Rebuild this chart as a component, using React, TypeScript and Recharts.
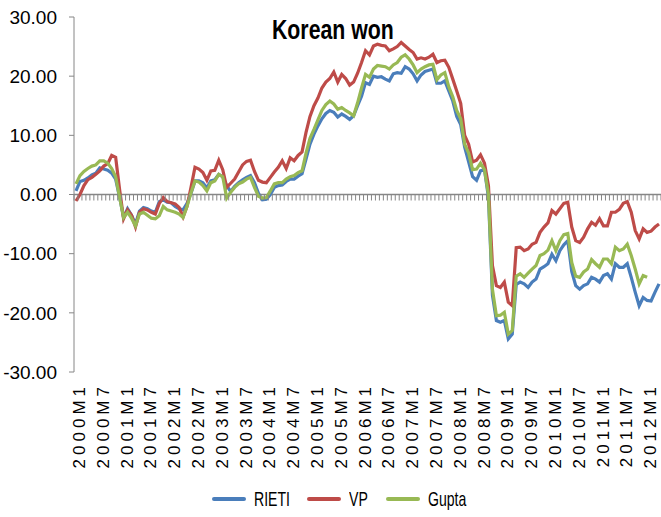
import { LineChart, Line, XAxis, YAxis, ReferenceLine, Legend } from 'recharts';

// monthly categories 2000M1 .. 2012M4
const YEARS = [2000, 2001, 2002, 2003, 2004, 2005, 2006, 2007, 2008, 2009, 2010, 2011, 2012];
const MONTHS = [1, 2, 3, 4, 5, 6, 7, 8, 9, 10, 11, 12];
const LAST_YEAR_MONTHS = 4;

const TICK_LABELS = [
  '2000M1', '2000M7', '2001M1', '2001M7', '2002M1', '2002M7', '2003M1', '2003M7',
  '2004M1', '2004M7', '2005M1', '2005M7', '2006M1', '2006M7', '2007M1', '2007M7',
  '2008M1', '2008M7', '2009M1', '2009M7', '2010M1', '2010M7', '2011M1', '2011M7', '2012M1',
];

const Y_TICKS = [-30, -20, -10, 0, 10, 20, 30];

const RIETI = [
  0.6, 2.2, 2.4, 2.8, 3.3, 3.6, 4.5, 4.3, 4.1, 3.6, 2.6, -0.5,
  -3.9, -2.4, -3.5, -5.0, -2.8, -2.2, -2.4, -2.8, -3.0, -1.2, -0.9, -1.3,
  -1.4, -2.0, -2.4, -2.6, -1.5, 0.2, 2.3, 2.3, 2.0, 1.1, 2.3, 2.5,
  3.4, 3.0, 1.5, 0.5, 1.4, 2.0, 2.5, 2.9, 3.2, 2.0, 0.2, -0.9,
  -0.8, 0.0, 1.2, 1.5, 1.6, 2.2, 2.6, 2.6, 3.1, 3.5, 6.0, 8.5,
  10.2, 11.6, 12.8, 13.7, 14.2, 13.9, 13.1, 13.6, 13.2, 12.7, 13.3, 15.0,
  16.6, 18.9, 18.6, 20.0, 19.8, 19.9, 19.5, 19.2, 20.4, 20.6, 20.5, 21.6,
  21.2, 20.4, 19.2, 20.2, 20.8, 21.0, 21.2, 18.8, 18.8, 19.2, 17.5, 15.8,
  13.2, 11.8, 8.0, 5.5, 3.0, 2.4, 4.0, 4.2, -0.5, -17.0, -21.3, -21.6,
  -21.3, -24.4, -23.6, -15.2, -14.8, -15.1, -15.7, -14.8, -14.3, -12.6, -12.2, -11.7,
  -10.1, -11.2, -9.5, -8.5, -7.8, -13.0, -15.4, -16.0, -15.4, -15.1, -14.0, -14.3,
  -14.8, -13.7, -13.4, -14.3, -11.7, -12.3, -12.3, -11.7, -14.0, -16.5, -18.8, -17.4,
  -17.9, -18.0, -16.5, -15.1,
];

const VP = [
  -1.1, 0.0, 1.5, 2.5, 2.9, 3.4, 4.0, 4.8, 5.2, 6.6, 6.3, 0.8,
  -4.1, -2.6, -3.5, -5.5, -3.0, -2.4, -2.6, -3.0, -3.3, -1.5, -0.5, -1.2,
  -1.4, -1.6, -2.2, -3.8, -2.0, 1.2, 4.6, 4.3, 3.7, 2.4, 4.0, 4.1,
  5.8, 4.2, 1.2, 1.9, 2.6, 3.8, 5.0, 5.6, 5.8, 3.9, 2.4, 2.1,
  2.0, 2.9, 3.8, 4.6, 5.7, 4.4, 6.2, 5.7, 6.6, 7.2, 10.5, 13.2,
  15.0, 16.3, 18.0, 19.0, 19.6, 20.7, 19.0, 20.3, 19.6, 18.5, 19.0, 20.5,
  22.3, 24.3, 23.6, 25.1, 25.4, 25.2, 25.1, 24.3, 24.6, 25.0, 25.7, 25.1,
  24.5, 24.0, 22.9, 23.1, 22.9, 23.2, 23.7, 22.3, 22.6, 22.7, 21.5, 19.5,
  17.5, 15.4, 10.0, 8.5, 5.5, 5.8, 6.7, 5.3, 1.5, -12.0, -15.4, -15.7,
  -14.8, -18.2, -18.8, -9.0, -8.9, -9.5, -9.2, -8.4, -8.1, -6.4, -5.5, -4.8,
  -2.7, -3.3, -2.4, -1.5, -1.3, -5.5, -7.8, -8.1, -7.2, -5.8, -4.7, -5.2,
  -4.1, -5.3, -5.3, -3.0, -3.0, -2.5, -1.5, -1.2, -3.0, -6.1, -7.5, -5.8,
  -6.4, -6.2, -5.5, -5.0,
];

const GUPTA = [
  1.8, 3.2, 3.9, 4.4, 4.8, 5.0, 5.7, 5.7, 5.3, 4.4, 3.0, -0.5,
  -3.9, -3.0, -4.0, -5.3, -3.3, -3.0, -3.5, -4.0, -4.1, -3.6, -2.0, -2.6,
  -2.8, -3.0, -3.3, -3.9, -2.0, 0.3, 2.3, 2.1, 1.5, 0.6, 2.0, 2.3,
  3.4, 3.0, -0.6, 0.4, 1.2, 1.8, 2.1, 2.6, 2.9, 1.2, -0.3, -0.6,
  -0.5, 0.6, 1.8, 2.0, 2.0, 2.6, 3.0, 3.2, 3.7, 4.0, 7.0, 9.5,
  11.0, 12.6, 14.2, 15.2, 15.8, 15.3, 14.4, 14.7, 14.2, 13.8, 13.3, 15.5,
  18.0, 20.3, 19.8, 21.2, 21.8, 21.7, 21.6, 21.2, 21.9, 22.3, 23.2, 23.6,
  22.9, 21.9, 20.6, 21.2, 21.6, 21.9, 22.0, 19.4, 20.2, 20.6, 18.2, 16.5,
  14.2, 12.8, 8.5, 7.0, 4.2, 4.3, 5.3, 4.2, 0.0, -16.0, -20.5, -20.4,
  -19.9, -23.6, -23.0, -13.8, -13.4, -14.0, -13.3, -12.6, -12.0, -10.3, -10.0, -9.4,
  -7.8, -9.5, -7.8, -6.8, -6.6, -11.5, -13.8, -14.0, -13.1, -12.6, -11.0, -11.7,
  -12.3, -10.9, -10.9, -11.7, -8.9, -9.5, -9.2, -8.4, -10.3, -12.6, -15.1, -13.7,
  -14.0,
];

const COLORS = { rieti: '#4A7EBB', vp: '#BE4B48', gupta: '#98B954' };
const AXIS_GRAY = '#868686';
const FONT = '"Liberation Sans", Arial, sans-serif';

const W = 661;
const H = 517;
const PLOT_LEFT = 74;
const PLOT_TOP = 17;
const LEGEND_H = 36;
const XAXIS_H = 109;
const PLOT_BOTTOM = H - LEGEND_H - XAXIS_H;
const ZERO_Y = (PLOT_TOP + PLOT_BOTTOM) / 2;

const categories: string[] = [];
YEARS.forEach((y) => {
  const ms = y === 2012 ? MONTHS.slice(0, LAST_YEAR_MONTHS) : MONTHS;
  ms.forEach((m) => categories.push(`${y}M${m}`));
});

const rows = categories.map((name, i) => ({
  name,
  rieti: RIETI[i],
  vp: VP[i],
  gupta: i < GUPTA.length ? GUPTA[i] : null,
}));

const HALF_STEP = (W - PLOT_LEFT) / categories.length / 2;

function CategoryTick(props: { x?: number; y?: number; payload?: { value: string }; index?: number }) {
  const { x = 0, payload, index = 0 } = props;
  const label = payload ? payload.value : '';
  const showLabel = TICK_LABELS.includes(label);
  const lx = x + 9;
  const ly = PLOT_BOTTOM + 11;
  return (
    <g>
      <line x1={x - HALF_STEP} x2={x - HALF_STEP} y1={ZERO_Y} y2={ZERO_Y + 6} stroke={AXIS_GRAY} />
      {index === categories.length - 1 && (
        <line x1={x + HALF_STEP} x2={x + HALF_STEP} y1={ZERO_Y} y2={ZERO_Y + 6} stroke={AXIS_GRAY} />
      )}
      {showLabel && (
        <text
          x={lx}
          y={ly}
          textAnchor="end"
          fill="#000"
          fontSize={17}
          fontFamily={FONT}
          letterSpacing={4}
          transform={`rotate(-90, ${lx}, ${ly})`}
        >
          {label}
        </text>
      )}
    </g>
  );
}

const LEGEND_ITEMS = [
  { key: 'rieti', name: 'RIETI', textW: 38 },
  { key: 'vp', name: 'VP', textW: 22 },
  { key: 'gupta', name: 'Gupta', textW: 46 },
];

function LegendContent() {
  return (
    <div
      style={{
        height: LEGEND_H,
        display: 'flex',
        justifyContent: 'flex-start',
        alignItems: 'center',
        paddingLeft: 212,
        fontFamily: FONT,
        fontSize: 21,
        color: '#000',
      }}
    >
      {LEGEND_ITEMS.map((it) => (
        <div key={it.key} style={{ display: 'flex', alignItems: 'center', marginRight: 15 }}>
          <span
            style={{
              display: 'inline-block',
              width: 34,
              height: 4,
              borderRadius: 2,
              background: COLORS[it.key as keyof typeof COLORS],
              marginRight: 8,
            }}
          />
          <span style={{ display: 'inline-block', width: it.textW, whiteSpace: 'nowrap' }}>
            <span style={{ display: 'inline-block', transform: 'scaleX(0.67)', transformOrigin: 'left center' }}>
              {it.name}
            </span>
          </span>
        </div>
      ))}
    </div>
  );
}

export default function App() {
  return (
    <div style={{ position: 'absolute', left: 0, top: 0, width: W, height: H, background: '#fff' }}>
      <LineChart width={W} height={H} data={rows} margin={{ top: PLOT_TOP, right: 0, bottom: 0, left: 0 }}>
        <XAxis
          dataKey="name"
          type="category"
          interval={0}
          height={XAXIS_H}
          axisLine={false}
          tickLine={false}
          padding={{ left: 2, right: 2 }}
          tick={<CategoryTick />}
        />
        <YAxis
          type="number"
          domain={[-30, 30]}
          ticks={Y_TICKS}
          width={PLOT_LEFT}
          tickFormatter={(v: number) => v.toFixed(2)}
          axisLine={{ stroke: AXIS_GRAY }}
          tickLine={{ stroke: AXIS_GRAY }}
          tickSize={5}
          tickMargin={12}
          tick={{ fill: '#000', fontSize: 19, fontFamily: FONT }}
          allowDataOverflow
        />
        <ReferenceLine y={0} stroke={AXIS_GRAY} strokeWidth={1.5} />
        <Legend verticalAlign="bottom" height={LEGEND_H} content={<LegendContent />} />
        <Line dataKey="rieti" name="RIETI" stroke={COLORS.rieti} strokeWidth={3.2} dot={false} isAnimationActive={false} />
        <Line dataKey="vp" name="VP" stroke={COLORS.vp} strokeWidth={3.2} dot={false} isAnimationActive={false} />
        <Line dataKey="gupta" name="Gupta" stroke={COLORS.gupta} strokeWidth={3.2} dot={false} isAnimationActive={false} />
      </LineChart>
      <div
        style={{
          position: 'absolute',
          left: 272,
          top: 14,
          width: 130,
          whiteSpace: 'nowrap',
          fontFamily: FONT,
          fontWeight: 'bold',
          fontSize: 28,
          lineHeight: '32px',
          color: '#000',
        }}
      >
        <span style={{ display: 'inline-block', transform: 'scaleX(0.76)', transformOrigin: 'left center' }}>
          Korean won
        </span>
      </div>
    </div>
  );
}
